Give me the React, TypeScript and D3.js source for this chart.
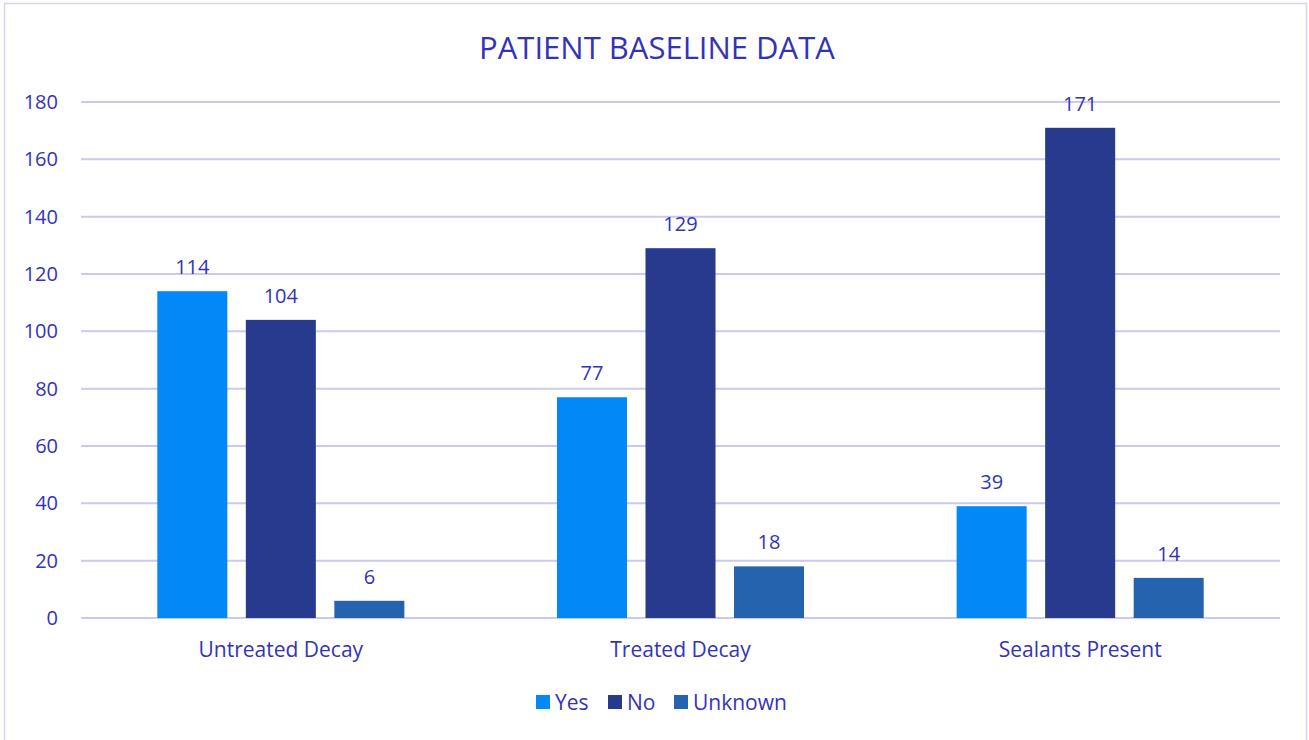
import React from "react";
import * as d3 from "d3";

const categories = ["Untreated Decay", "Treated Decay", "Sealants Present"];
const seriesNames = ["Yes", "No", "Unknown"];
const yesValues = [114, 77, 39];
const noValues = [104, 129, 171];
const unknownValues = [6, 18, 14];
const yTicks = [0, 20, 40, 60, 80, 100, 120, 140, 160, 180];
const colors = ["#0388F8", "#283A8E", "#2563AE"];

const W = 1309;
const H = 740;
const textColor = "#3333B8";
const gridColor = "#CACAF0";
const font = "'Open Sans', 'Noto Sans', sans-serif";

export default function App() {
  const seriesValues = [yesValues, noValues, unknownValues];
  const left = 81, right = 1280, top = 102, bottom = 618;
  const y = d3.scaleLinear().domain([0, 180]).range([bottom, top]);
  const x0 = d3.scaleBand<string>().domain(categories).range([left, right]).padding(0);
  const x1 = d3
    .scaleBand<string>()
    .domain(seriesNames)
    .range([0, x0.bandwidth()])
    .paddingInner(0.209)
    .paddingOuter(0.862);

  const legendItems = [
    { name: "Yes", x: 536 },
    { name: "No", x: 608 },
    { name: "Unknown", x: 674 },
  ];

  return (
    <svg width={W} height={H} style={{ position: "absolute", left: 0, top: 0 }}>
      <rect x={0} y={0} width={W} height={H} fill="#fff" />
      <rect x={4.5} y={3.5} width={1302} height={760} fill="#fff" stroke="#D4D4F2" strokeWidth={1.5} />
      <text x={657} y={59} textAnchor="middle" fontFamily={font} fontSize={31} fill={textColor}>
        PATIENT BASELINE DATA
      </text>
      {yTicks.map((t) => (
        <g key={t}>
          <line x1={left} x2={right} y1={y(t)} y2={y(t)} stroke={gridColor} strokeWidth={2} />
          <text x={58} y={y(t) + 7} textAnchor="end" fontFamily={font} fontSize={20} fill={textColor}>
            {t}
          </text>
        </g>
      ))}
      {categories.map((c, ci) => (
        <g key={c}>
          {seriesNames.map((s, si) => {
            const v = seriesValues[si][ci];
            const bx = (x0(c) as number) + (x1(s) as number);
            return (
              <g key={s}>
                <rect x={bx} y={y(v)} width={x1.bandwidth()} height={y(0) - y(v)} fill={colors[si]} />
                <text
                  x={bx + x1.bandwidth() / 2}
                  y={y(v) - 17}
                  textAnchor="middle"
                  fontFamily={font}
                  fontSize={20}
                  fill={textColor}
                >
                  {v}
                </text>
              </g>
            );
          })}
          <text
            x={(x0(c) as number) + x0.bandwidth() / 2}
            y={657}
            textAnchor="middle"
            fontFamily={font}
            fontSize={21}
            fill={textColor}
          >
            {c}
          </text>
        </g>
      ))}
      {legendItems.map((l, i) => (
        <g key={l.name}>
          <rect x={l.x} y={695} width={14} height={14} fill={colors[i]} />
          <text x={l.x + 19} y={709.5} fontFamily={font} fontSize={21} fill={textColor}>
            {l.name}
          </text>
        </g>
      ))}
    </svg>
  );
}
